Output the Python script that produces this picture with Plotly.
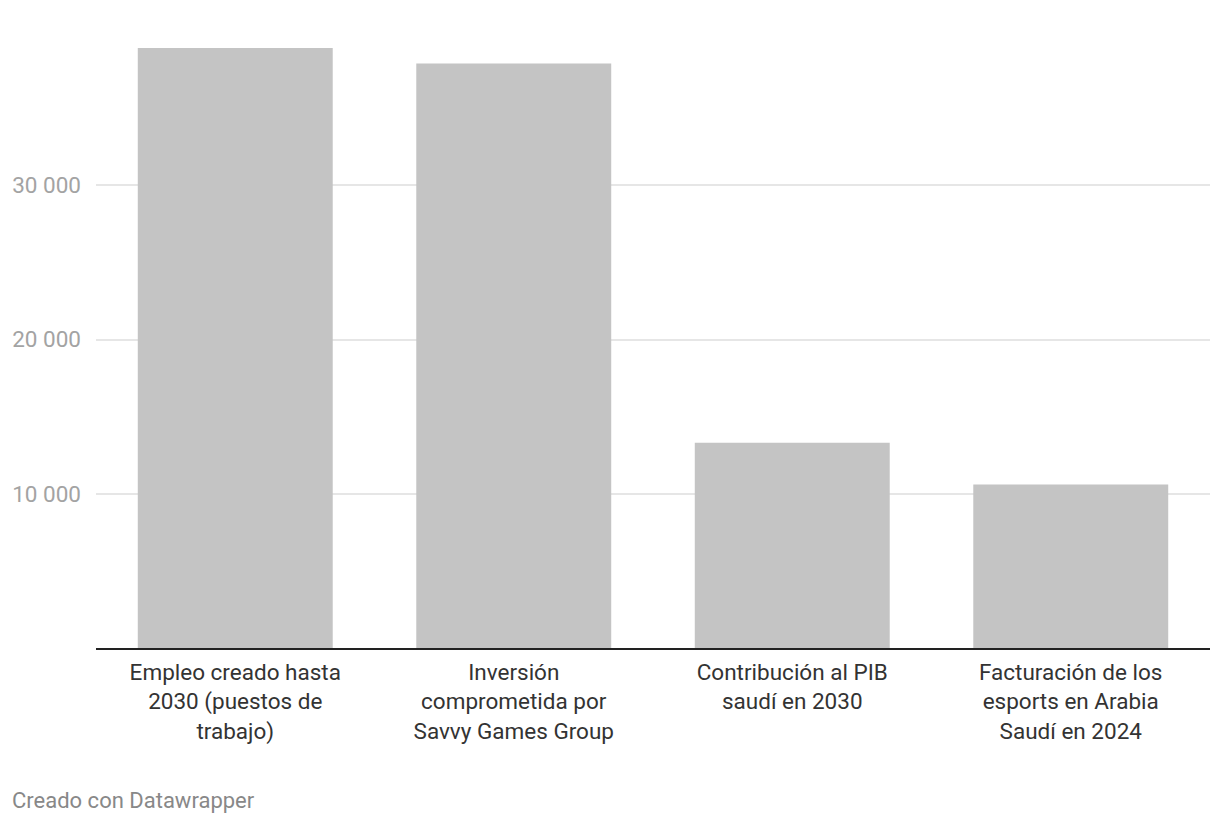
import plotly.graph_objects as go

categories = [
    "Empleo creado hasta<br>2030 (puestos de<br>trabajo)",
    "Inversión<br>comprometida por<br>Savvy Games Group",
    "Contribución al PIB<br>saudí en 2030",
    "Facturación de los<br>esports en Arabia<br>Saudí en 2024",
]
values = [38900, 37900, 13300, 10600]
tick_vals = [10000, 20000, 30000]
tick_text = ["10 000", "20 000", "30 000"]

fig = go.Figure(go.Bar(
    x=categories, y=values,
    marker=dict(color="#c4c4c4", line=dict(width=0)),
    hoverinfo="skip",
))

fig.update_layout(
    width=1212, height=816,
    margin=dict(l=88, r=10, t=40, b=176),
    paper_bgcolor="white", plot_bgcolor="white",
    bargap=0.30,
    showlegend=False,
    font=dict(family="Roboto", color="#333333"),
    xaxis=dict(
        showline=True, linecolor="#222222", linewidth=2,
        showgrid=False, ticks="", ticklabelstandoff=3,
        tickfont=dict(size=22.5, color="#333333"),
        fixedrange=True, automargin=False,
    ),
    yaxis=dict(
        range=[0, 38900],
        tickvals=tick_vals, ticktext=tick_text,
        showgrid=True, gridcolor="#e6e6e6", gridwidth=2,
        zeroline=False, showline=False, ticks="",
        ticklabelstandoff=14,
        tickfont=dict(size=22.5, color="#a3a3a3"),
        fixedrange=True, automargin=False,
    ),
    annotations=[dict(
        text="Creado con Datawrapper", xref="paper", yref="paper",
        x=0, xanchor="left", y=0, yanchor="middle",
        xshift=-86, yshift=-152, showarrow=False,
        font=dict(size=22, color="#888888", family="Roboto"),
    )],
)

fig.write_html("out.html")
